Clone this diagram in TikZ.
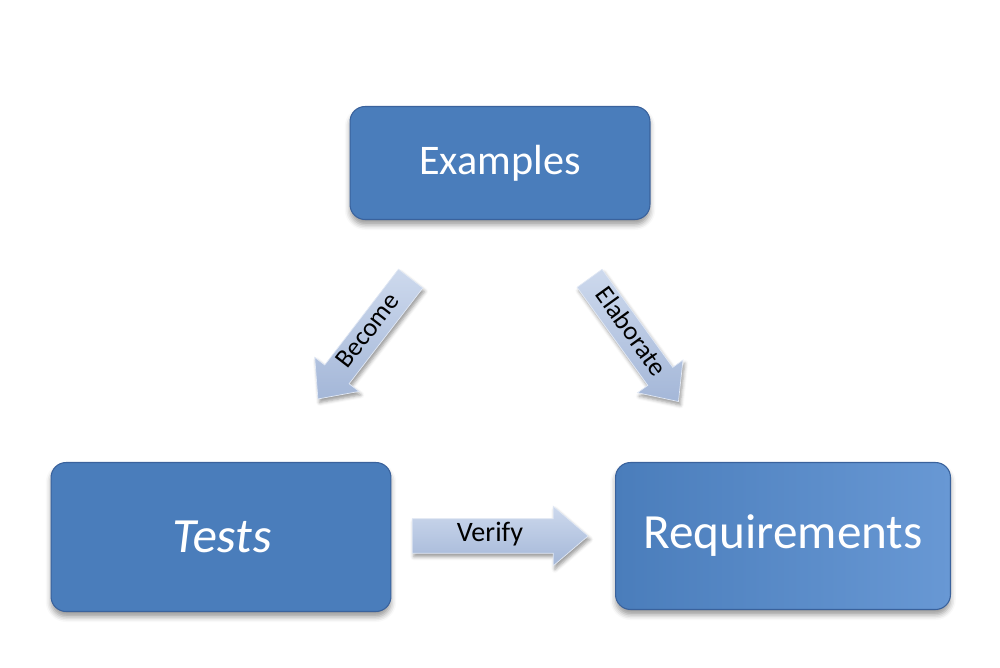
\documentclass[tikz,border=0pt]{standalone}
\usepackage{fontspec}
\setmainfont{Carlito}
\newfontfamily\slantfont[FakeSlant=0.12]{Carlito}
\usetikzlibrary{shapes.arrows, shadows.blur, calc, positioning}

\definecolor{boxblue}{RGB}{74,125,187}
\definecolor{boxlight}{RGB}{104,152,212}
\definecolor{boxedge}{RGB}{58,98,156}
\definecolor{arrowtop}{RGB}{205,217,237}
\definecolor{arrowbot}{RGB}{164,183,216}

\tikzset{
  card/.style={rectangle, rounded corners=0.3cm, draw=boxedge, line width=0.6pt,
    fill=boxblue, text=white, align=center,
    blur shadow={shadow xshift=0pt, shadow yshift=-3pt, shadow blur radius=3pt}},
  blockarrow/.style={single arrow, draw=arrowtop!60!white, line width=0.4pt,
    top color=arrowtop, bottom color=arrowbot, text=black,
    inner xsep=2pt, inner ysep=2.25pt, text height=9.5pt, text depth=3pt,
    single arrow head indent=0pt,
    blur shadow={shadow xshift=1pt, shadow yshift=-2pt, shadow blur radius=2pt}}
}

\begin{document}
\begin{tikzpicture}[x=0.02cm, y=0.02cm]
  \useasboundingbox (0,0) rectangle (1000,667);

  % the three blocks
  \node[card, minimum width=6cm, minimum height=2.26cm,
        font=\fontsize{24}{28}\selectfont] (ex) at (500,504) {Examples};
  \node[card, minimum width=6.8cm, minimum height=2.98cm,
        font=\slantfont\fontsize{28}{32}\selectfont] (te) at (221,130) {Tests};
  \node[card, minimum width=6.7cm, minimum height=2.94cm,
        left color=boxblue, right color=boxlight,
        font=\fontsize{28}{32}\selectfont] (rq) at (783,131) {Requirements};

  % block arrows between them
  \node[blockarrow, rotate=52.4, shape border rotate=180,
        minimum height=3.04cm, minimum width=1.12cm,
        single arrow tip angle=84, font=\fontsize{15}{17}\selectfont]
        (become) at ($($(ex)!0.5!(te)$)+(9,18)$) {Become};
  \node[blockarrow, rotate=-54.2,
        minimum height=3.04cm, minimum width=1.12cm,
        single arrow tip angle=84, font=\fontsize{15}{17}\selectfont]
        (elab) at ($($(ex)!0.5!(rq)$)+(-12.5,16.5)$) {Elaborate};
  \node[blockarrow, minimum height=3.52cm, minimum width=1.14cm,
        inner ysep=3.4pt, single arrow tip angle=81,
        font=\fontsize{16}{18}\selectfont]
        (verify) at ($($(te)!0.5!(rq)$)+(-12,0.5)$) {Verify};
\end{tikzpicture}
\end{document}
